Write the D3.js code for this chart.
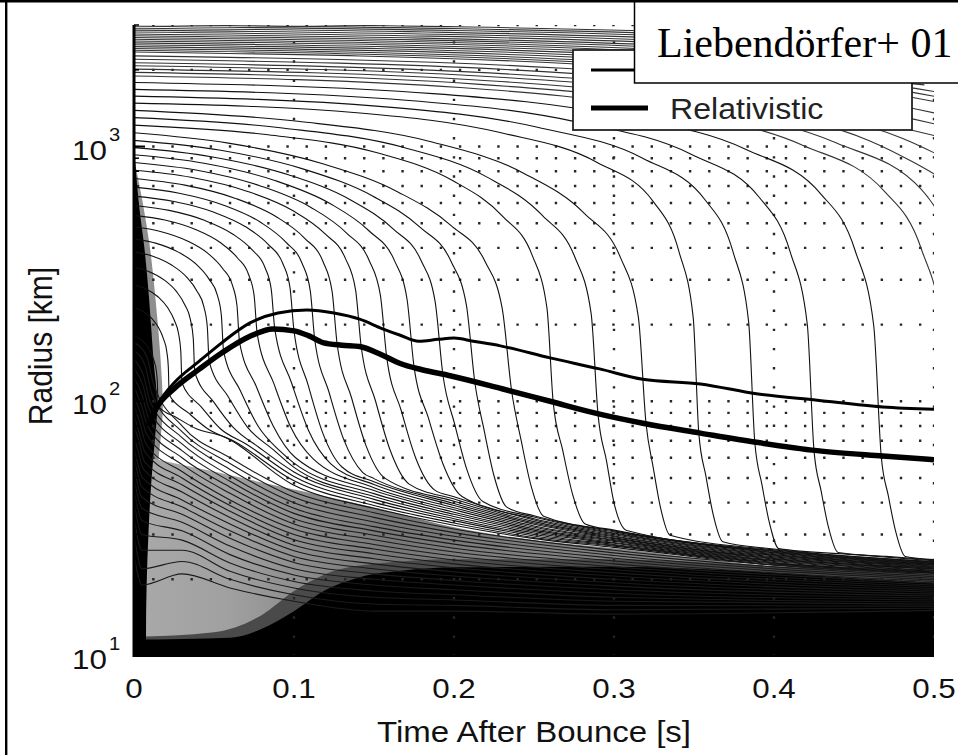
<!DOCTYPE html>
<html><head><meta charset="utf-8">
<script src="https://cdn.jsdelivr.net/npm/d3@7"></script>
<style>body{margin:0;background:#fff}svg{display:block}</style>
</head><body>
<svg id="chart" width="958" height="755"></svg>
<script>
// ---------- data ----------
const xTicks = [0, 0.1, 0.2, 0.3, 0.4, 0.5];
const xTickLabels = ["0", "0.1", "0.2", "0.3", "0.4", "0.5"];
const yTicks = [10, 100, 1000];
const yTickExponents = ["1", "2", "3"];
const yGridValues = [20,30,40,50,60,70,80,90,100,200,300,400,500,600,700,800,900,1000,2000,3000];
const xGridValues = [0.1, 0.2, 0.3, 0.4, 0.5];
const legendLabels = ["Newtonian", "Relativistic"];

// shock radius [km] vs time after bounce [s]
const newtonianShock = [[0.009,82],[0.016,100],[0.025,118],[0.041,144],[0.055,170],[0.0725,203],[0.09,222],[0.108,228],[0.125,222],[0.141,210],[0.155,193],[0.166,182],[0.178,172],[0.19,175],[0.2,177],[0.212,172],[0.229,165],[0.26,148],[0.291,134],[0.318,122],[0.354,117],[0.389,107],[0.427,101],[0.468,95],[0.5,93]];
const relativisticShock = [[0.009,80],[0.014,94],[0.025,112],[0.041,134],[0.055,155],[0.0725,180],[0.087,192],[0.1,189],[0.109,181],[0.118,170],[0.13,166],[0.141,164],[0.155,152],[0.166,141],[0.18,133],[0.1975,126],[0.23,112],[0.26,100],[0.291,89],[0.318,82],[0.354,75],[0.389,69],[0.427,64],[0.468,61],[0.5,59]];

// mass-shell trajectories that cross the shock inside the plotted time range
const shellTracks = [
 [[0,180],[0.00375,175.5],[0.0075,167],[0.0105,155.8],[0.0126,143.6],[0.01395,131.5],[0.01463,117.4],[0.015,96],[0.027,86],[0.039,78],[0.055,73],[0.1,46.8],[0.15,38],[0.2,32.6],[0.25,28.9],[0.3,26.7],[0.4,22.7],[0.5,21.1]],
 [[0,233],[0.0055,225.8],[0.011,212],[0.0154,194.4],[0.01848,175.5],[0.02046,157.1],[0.02145,136.4],[0.022,106],[0.034,90],[0.046,78],[0.062,70],[0.1,48.7],[0.15,39],[0.2,33.3],[0.25,29.2],[0.3,27],[0.4,22.8],[0.5,21.2]],
 [[0,286],[0.0075,276],[0.015,257.2],[0.021,233.3],[0.0252,208],[0.0279,183.7],[0.02925,156.6],[0.03,118],[0.042,95],[0.054,78],[0.07,68],[0.1,50.7],[0.15,40.1],[0.2,34],[0.25,29.6],[0.3,27.2],[0.4,23],[0.5,21.3]],
 [[0,335],[0.0095,322.6],[0.019,299],[0.0266,269.4],[0.0319,238.2],[0.0353,208.7],[0.03705,176],[0.038,130],[0.05,99],[0.062,79],[0.078,66],[0.1,52.8],[0.15,41.2],[0.2,34.6],[0.25,30],[0.3,27.4],[0.4,23.15],[0.5,21.4]],
 [[0,386],[0.01175,371],[0.0235,342.6],[0.0329,307.3],[0.0395,270],[0.0437,234.9],[0.0458,196.5],[0.047,143],[0.059,104],[0.071,79],[0.087,64.6],[0.1,55],[0.15,42.3],[0.2,35.3],[0.25,30.4],[0.3,27.7],[0.4,23.3],[0.5,21.55]],
 [[0,434],[0.014,416.7],[0.028,384.1],[0.0392,343.6],[0.047,301],[0.0521,261],[0.0546,217.4],[0.056,157],[0.0665,110],[0.0775,80],[0.091,64],[0.1,57.2],[0.15,43.4],[0.2,36],[0.25,30.8],[0.3,27.9],[0.4,23.5],[0.5,21.65]],
 [[0,484],[0.0165,464.2],[0.033,426.9],[0.0462,380.5],[0.0554,332],[0.0614,286.8],[0.06435,237.6],[0.066,170],[0.0765,114],[0.087,80],[0.101,60],[0.15,44.6],[0.2,36.7],[0.25,31.2],[0.3,28.2],[0.4,23.65],[0.5,21.75]],
 [[0,537],[0.01925,514.5],[0.0385,472.3],[0.0539,419.8],[0.0647,365.2],[0.0716,314.4],[0.0751,259.3],[0.077,184],[0.0875,117],[0.098,79],[0.112,59.4],[0.15,45.8],[0.2,37.5],[0.25,31.6],[0.3,28.4],[0.4,23.8],[0.5,21.9]],
 [[0,587],[0.022,561.5],[0.044,513.3],[0.0616,453.9],[0.0739,392.6],[0.0818,335.7],[0.0858,274.5],[0.088,192],[0.0985,118],[0.109,77],[0.123,56.8],[0.15,47.1],[0.2,38.2],[0.25,32],[0.3,28.6],[0.4,24],[0.5,22]],
 [[0,639],[0.025,608.4],[0.05,552.1],[0.07,483],[0.084,412.2],[0.093,347.5],[0.0975,279.2],[0.1,189],[0.109,115],[0.118,75],[0.13,55.2],[0.15,48.3],[0.2,39],[0.25,32.4],[0.3,28.9],[0.4,24.15],[0.5,22.1]],
 [[0,693],[0.02825,655.8],[0.0565,587],[0.0791,504.3],[0.0949,421.3],[0.1051,347.2],[0.1102,270.8],[0.113,174],[0.122,108],[0.131,71],[0.143,52.5],[0.15,49.7],[0.2,39.7],[0.25,32.9],[0.3,29.1],[0.4,24.3],[0.5,22.2]],
 [[0,749],[0.03175,705.3],[0.0635,625.6],[0.0889,530.4],[0.1067,436.4],[0.1181,353.7],[0.1238,270],[0.127,167],[0.136,103],[0.145,67],[0.157,49.8],[0.2,40.5],[0.25,33.3],[0.3,29.4],[0.4,24.5],[0.5,22.35]],
 [[0,807],[0.0355,757.5],[0.071,666.4],[0.0994,559.4],[0.1193,454.7],[0.1321,363.8],[0.1385,273.1],[0.142,164],[0.151,100],[0.16,64.5],[0.172,47.3],[0.2,41.3],[0.25,33.7],[0.3,29.6],[0.4,24.7],[0.5,22.45]],
 [[0,866],[0.0395,807],[0.079,700.5],[0.1106,576.8],[0.1327,458.5],[0.1469,358],[0.154,260.5],[0.158,148],[0.167,92],[0.176,60],[0.188,44.8],[0.2,42.2],[0.25,34.2],[0.3,29.9],[0.4,24.85],[0.5,22.55]],
 [[0,928],[0.04375,859.7],[0.0875,737.6],[0.1225,597.5],[0.147,466.1],[0.1628,356.5],[0.1706,252.6],[0.175,137],[0.184,86],[0.193,57],[0.205,42.3],[0.25,34.6],[0.3,30.2],[0.4,25],[0.5,22.7]],
 [[0,990],[0.04825,912.5],[0.0965,774.5],[0.1351,618.4],[0.1621,474.1],[0.1795,355.9],[0.1882,246.3],[0.193,128],[0.2005,81],[0.208,54],[0.218,40.4],[0.25,35.1],[0.3,30.4],[0.4,25.2],[0.5,22.8]],
 [[0,1057],[0.05325,969],[0.1065,813.6],[0.1491,639.6],[0.1789,481.6],[0.1981,354.6],[0.2077,239.4],[0.213,119],[0.219,76],[0.225,51],[0.233,38.4],[0.25,35.5],[0.3,30.7],[0.4,25.4],[0.5,22.9]],
 [[0,1132],[0.059,1031],[0.118,855.7],[0.1652,662.1],[0.1982,489],[0.2195,352.8],[0.2301,232],[0.236,110],[0.242,70],[0.248,47],[0.256,35.4],[0.3,31],[0.4,25.55],[0.5,23.05]],
 [[0,1214],[0.0838,1112],[0.152,944.6],[0.1991,735.6],[0.2306,530.9],[0.2489,373.8],[0.2581,232.1],[0.262,99],[0.268,64],[0.274,43.4],[0.282,33],[0.3,31.2],[0.4,25.75],[0.5,23.15]],
 [[0,1299],[0.0928,1183],[0.1682,993.6],[0.2204,760.2],[0.2552,536.3],[0.2755,368.5],[0.2857,221.4],[0.29,89],[0.2954,58],[0.2998,40.5],[0.308,31.1],[0.4,25.9],[0.5,23.3]],
 [[0,1387],[0.1024,1256],[0.1856,1045],[0.2432,788],[0.2816,545.5],[0.304,367.1],[0.3152,214.5],[0.32,82],[0.3245,55],[0.329,38.4],[0.335,29.8],[0.4,26.1],[0.5,23.4]],
 [[0,1481],[0.1412,1354],[0.2295,1132],[0.2895,866],[0.3248,605.2],[0.3406,386.9],[0.3495,213.1],[0.353,75],[0.3575,50.6],[0.362,35.9],[0.368,28.1],[0.4,26.3],[0.5,23.5]],
 [[0,1577],[0.1552,1435],[0.2522,1190],[0.3182,898],[0.357,617],[0.3744,385.7],[0.3841,206.3],[0.388,69],[0.3925,47],[0.397,33.6],[0.403,26.4],[0.45,25],[0.5,23.65]],
 [[0,1676],[0.17,1520],[0.2763,1250],[0.3485,931],[0.391,629.3],[0.4101,385.7],[0.4208,200.7],[0.425,64],[0.4295,44.3],[0.434,32.1],[0.44,25.5],[0.47,24.6],[0.5,23.8]],
 [[0,1785],[0.1868,1613],[0.3036,1317],[0.3829,972],[0.4296,648],[0.4507,390.6],[0.4623,198.9],[0.467,61],[0.4715,42.4],[0.476,30.9],[0.482,24.6],[0.5,23.9]]
];

// outer shells, still falling at the end of the plotted range
const outerShellTracks = [
 [[0,1892],[0.204,1704],[0.3315,1383],[0.4182,1010],[0.4692,665],[0.4922,394.2],[0.5049,196.4],[0.51,58]],
 [[0,1955],[0.214,1758],[0.3478,1422],[0.4387,1034],[0.4922,677],[0.5163,398.3]],
 [[0,2014],[0.224,1809],[0.364,1459],[0.4592,1057],[0.5152,688]],
 [[0,2075],[0.234,1862],[0.3803,1498],[0.4797,1081],[0.5382,700]],
 [[0,2132],[0.244,1910],[0.3965,1534],[0.5002,1104]],
 [[0,2200],[0.256,1969],[0.416,1577],[0.5248,1131]],
 [[0,2270],[0.268,2030],[0.4355,1622],[0.5494,1158]],
 [[0,2350],[0.282,2098],[0.4583,1671],[0.5781,1189]],
 [[0,2387],[0.289,2130],[0.47,1695],[0.592,1204]],
 [[0,2425],[0.296,2162],[0.481,1719],[0.6068,1219]],
 [[0,2467],[0.304,2198],[0.494,1746]],
 [[0,2510],[0.312,2235],[0.507,1774]],
 [[0,2553],[0.32,2272],[0.52,1801]],
 [[0,2597],[0.328,2310],[0.533,1828]],
 [[0,2638],[0.336,2346],[0.546,1855]],
 [[0,2680],[0.344,2382],[0.559,1882]],
 [[0,2722],[0.352,2418],[0.572,1909]],
 [[0,2764],[0.36,2455],[0.585,1936]],
 [[0,2815],[0.37,2498],[0.6,1968]],
 [[0,2865],[0.38,2542],[0.6175,2000]],
 [[0,2915],[0.39,2584],[0.634,2031]],
 [[0,2965],[0.4,2627],[0.65,2063]],
 [[0,3012],[0.41,2667],[0.666,2092]],
 [[0,3060],[0.42,2708],[0.6825,2122]]
];

// inner shells, already inside the shock at bounce
const innerShellTracks = [
 [[0,170],[0.008,150],[0.012,118],[0.03,80],[0.06,60],[0.1,44],[0.15,36.5],[0.2,31.5],[0.3,26],[0.5,20.8]],
 [[0,158],[0.007,138],[0.011,108],[0.03,76],[0.06,57],[0.1,42],[0.15,35],[0.2,30.5],[0.3,25.4],[0.5,20.5]],
 [[0,146],[0.006,126],[0.01,100],[0.03,72],[0.06,54],[0.1,40],[0.15,33.6],[0.2,29.5],[0.3,24.8],[0.5,20.2]],
 [[0,135],[0.0055,116],[0.0095,93],[0.03,68],[0.06,51],[0.1,38],[0.15,32.2],[0.2,28.5],[0.3,24.2],[0.5,19.9]],
 [[0,124],[0.005,106],[0.009,86],[0.03,64],[0.06,48.5],[0.1,36.3],[0.15,31],[0.2,27.5],[0.3,23.6],[0.5,19.6]],
 [[0,114],[0.0045,97],[0.0085,80],[0.03,60],[0.06,46],[0.1,34.6],[0.15,29.8],[0.2,26.5],[0.3,23],[0.5,19.3]],
 [[0,105],[0.004,90],[0.008,74],[0.03,56.5],[0.06,43.5],[0.1,33],[0.15,28.6],[0.2,25.6],[0.3,22.4],[0.5,19]],
 [[0,96],[0.0035,83],[0.0075,68],[0.03,53],[0.06,41],[0.1,31.5],[0.15,27.4],[0.2,24.7],[0.3,21.8],[0.5,18.7]],
 [[0,88],[0.003,76],[0.007,63],[0.03,50],[0.06,39],[0.1,30],[0.15,26.3],[0.2,23.8],[0.3,21.2],[0.5,18.4]],
 [[0,80],[0.003,70],[0.0065,58],[0.03,47],[0.06,37],[0.1,28.6],[0.15,25.2],[0.2,23],[0.3,20.6],[0.5,18.1]],
 [[0,73],[0.0025,64],[0.006,54],[0.03,44],[0.06,35],[0.1,27.2],[0.15,24.1],[0.2,22.2],[0.3,20],[0.5,17.8]],
 [[0,66],[0.002,58],[0.0055,50],[0.03,41],[0.06,33],[0.1,25.9],[0.15,23],[0.2,21.4],[0.3,19.4],[0.5,17.5]],
 [[0,60],[0.002,53],[0.005,46],[0.03,38.5],[0.06,31],[0.1,24.6],[0.15,22],[0.2,20.6],[0.3,18.8],[0.5,17.2]],
 [[0,55],[0.005,42],[0.03,36],[0.06,29],[0.1,23.3],[0.15,21],[0.2,19.8],[0.3,18.2],[0.5,16.9]],
 [[0,50],[0.005,38],[0.03,33.5],[0.06,27],[0.1,22],[0.15,20],[0.2,19],[0.3,17.6],[0.5,16.6]],
 [[0,45],[0.005,34],[0.03,31],[0.06,25],[0.1,20.8],[0.15,19],[0.2,18.2],[0.3,17],[0.5,16.3]],
 [[0,40],[0.005,30],[0.03,28.5],[0.06,23.2],[0.1,19.6],[0.15,18],[0.2,17.4],[0.3,16.4],[0.5,16]],
 [[0,35],[0.005,26],[0.03,26],[0.06,21.5],[0.1,18.5],[0.15,17],[0.2,16.6],[0.3,15.8],[0.5,15.7]],
 [[0,30],[0.005,22],[0.03,23.5],[0.06,20],[0.1,17.4],[0.15,16],[0.2,15.8],[0.3,15.2],[0.5,15.4]],
 [[0,25],[0.005,19],[0.03,21],[0.06,18.5],[0.1,16.4],[0.15,15],[0.2,15],[0.3,14.6],[0.5,15.1]]
];

// saturated (densely over-plotted) regions: upper edge radius vs time
const grayRegionTop = [[0,62],[0.02,58],[0.05,53],[0.08,48],[0.1,45],[0.13,41],[0.16,37],[0.2,32],[0.25,28.5],[0.3,26.5],[0.4,22.5],[0.5,21]];
const darkRegionTop = [[0,11.9],[0.05,12.4],[0.08,14.5],[0.1,18],[0.12,21],[0.15,23],[0.2,24],[0.3,24],[0.4,22.5],[0.5,21]];
const blackRegionTop = [[0,11.6],[0.06,11.8],[0.08,12.8],[0.1,15],[0.12,18.2],[0.14,20.3],[0.17,21.7],[0.2,22.3],[0.3,22.4],[0.35,22],[0.4,21.2],[0.45,20.2],[0.5,19.4]];
// early collapse band at the left edge: [radius, time of right edge]
const leftBandEdge = [[1000,0],[800,0.0012],[600,0.003],[400,0.0065],[250,0.0095],[150,0.012],[95,0.0145],[70,0.013],[50,0.011],[30,0.009],[12,0.0075],[10,0.0075]];
const leftFringeEdge = [[900,0],[600,0.0055],[400,0.01],[250,0.0135],[150,0.0165],[95,0.018],[70,0.0165],[50,0.014],[30,0.011],[10,0.009]];

// ---------- drawing ----------
const svg = d3.select("#chart");
const W = 958, H = 755;
const x = d3.scaleLinear().domain([0, 0.5]).range([134, 934]);
const y = d3.scaleLog().domain([10, 3000]).range([656, 25]);
const SANS = "'Liberation Sans', Arial, Helvetica, sans-serif";

svg.append("rect").attr("width", W).attr("height", H).attr("fill", "#fff");

const defs = svg.append("defs");
defs.append("clipPath").attr("id", "plotClip").append("rect")
  .attr("x", x(0)).attr("y", y(3000)).attr("width", x(0.5) - x(0)).attr("height", y(10) - y(3000));
const grad = defs.append("linearGradient").attr("id", "grayGrad")
  .attr("gradientUnits", "userSpaceOnUse").attr("x1", x(0)).attr("x2", x(0.5)).attr("y1", 0).attr("y2", 0);
[[0, "#a9a9a9"], [0.12, "#a0a0a0"], [0.22, "#8a8a8a"], [0.32, "#777"], [0.5, "#808080"], [1, "#8a8a8a"]]
  .forEach(s => grad.append("stop").attr("offset", s[0]).attr("stop-color", s[1]));

const plot = svg.append("g").attr("clip-path", "url(#plotClip)");

const areaTop = d3.area().x(d => x(d[0])).y0(y(10)).y1(d => y(d[1])).curve(d3.curveMonotoneX);
const bandArea = d3.area().y(d => y(d[0])).x0(x(0)).x1(d => x(d[1])).curve(d3.curveMonotoneY);

plot.append("path").datum(leftFringeEdge).attr("d", bandArea).attr("fill", "#8f8f8f");
plot.append("path").datum(grayRegionTop).attr("d", areaTop).attr("fill", "url(#grayGrad)");
plot.append("path").datum(darkRegionTop).attr("d", areaTop).attr("fill", "#4a4a4a");
plot.append("path").datum(blackRegionTop).attr("d", areaTop).attr("fill", "#000");
plot.append("path").datum(leftBandEdge).attr("d", bandArea).attr("fill", "#000");

// dotted grid
const gridG = plot.append("g").attr("stroke", "#262626").attr("stroke-width", 2.4).attr("stroke-dasharray", "2.4 16.77").attr("fill", "none");
yGridValues.forEach(v => {
  gridG.append("path").attr("d", `M${x(0) - 1},${y(v)}H${x(0.5) + 2}`);
});
xGridValues.forEach(v => {
  gridG.append("path").attr("d", `M${x(v)},${y(10) + 1}V${y(3000) - 2}`);
});

// trajectories
const line = d3.line().x(d => x(d[0])).y(d => y(d[1])).curve(d3.curveMonotoneX);
const shellG = plot.append("g").attr("fill", "none").attr("stroke", "#111").attr("stroke-width", 1.1);
outerShellTracks.forEach(s => shellG.append("path").attr("d", line(s)).attr("stroke", "#333"));
shellTracks.forEach(s => shellG.append("path").attr("d", line(s)));
innerShellTracks.forEach(s => shellG.append("path").attr("d", line(s)).attr("stroke", "#1a1a1a"));

// shock radii
plot.append("path").datum(newtonianShock).attr("d", line).attr("fill", "none")
  .attr("stroke", "#000").attr("stroke-width", 3).attr("stroke-linejoin", "round");
plot.append("path").datum(relativisticShock).attr("d", line).attr("fill", "none")
  .attr("stroke", "#000").attr("stroke-width", 5.5).attr("stroke-linejoin", "round");

// axes
const axG = svg.append("g").attr("stroke", "#000");
axG.append("line").attr("x1", x(0)).attr("x2", x(0)).attr("y1", y(3000)).attr("y2", y(10) + 1).attr("stroke-width", 3);
axG.append("line").attr("x1", x(0)).attr("x2", x(0.5)).attr("y1", y(10)).attr("y2", y(10)).attr("stroke-width", 2);
yGridValues.forEach(v => {
  axG.append("line").attr("x1", x(0)).attr("x2", x(0) + 5).attr("y1", y(v)).attr("y2", y(v)).attr("stroke-width", 1.5);
});
yTicks.forEach(v => {
  axG.append("line").attr("x1", x(0)).attr("x2", x(0) + 11).attr("y1", y(v)).attr("y2", y(v)).attr("stroke-width", 2);
});

const txt = svg.append("g").attr("font-family", SANS).attr("fill", "#111");
xTicks.forEach((v, i) => {
  txt.append("text").attr("transform", `translate(${x(v)},698) scale(1.12,1)`)
    .attr("text-anchor", "middle").attr("font-size", 28).text(xTickLabels[i]);
});
yTicks.forEach((v, i) => {
  txt.append("text").attr("transform", `translate(107,${y(v) + 13}) scale(1.12,1)`)
    .attr("text-anchor", "end").attr("font-size", 28).text("10");
  txt.append("text").attr("transform", `translate(109,${y(v) - 6}) scale(1.12,1)`)
    .attr("font-size", 18).text(yTickExponents[i]);
});
txt.append("text").attr("transform", `translate(${(x(0) + x(0.5)) / 2},742) scale(1.1,1)`)
  .attr("text-anchor", "middle").attr("font-size", 30).text("Time After Bounce [s]");
txt.append("text").attr("transform", "translate(52,346) rotate(-90) scale(1,1.1)")
  .attr("text-anchor", "middle").attr("font-size", 30).text("Radius [km]");

// legend
const lg = svg.append("g");
lg.append("rect").attr("x", 573).attr("y", 50).attr("width", 339).attr("height", 80)
  .attr("fill", "#fff").attr("stroke", "#222").attr("stroke-width", 1.8);
lg.append("line").attr("x1", 591).attr("x2", 646).attr("y1", 70).attr("y2", 70).attr("stroke", "#000").attr("stroke-width", 3);
lg.append("line").attr("x1", 591).attr("x2", 648).attr("y1", 108).attr("y2", 108).attr("stroke", "#000").attr("stroke-width", 5);
lg.append("text").attr("transform", "translate(670,119) scale(1.07,1)").attr("font-family", SANS)
  .attr("font-size", 30).attr("fill", "#222").text(legendLabels[1]);

// figure label box
const lb = svg.append("g");
lb.append("rect").attr("x", 634.5).attr("y", -2).attr("width", 340).attr("height", 85)
  .attr("fill", "#fff").attr("stroke", "#000").attr("stroke-width", 1.5);
lb.append("text").attr("x", 657).attr("y", 57).attr("font-family", "'Liberation Serif', 'Times New Roman', serif")
  .attr("font-size", 42).attr("fill", "#000").text("Liebendörfer+ 01");

// outer frame
svg.append("line").attr("x1", 0).attr("x2", W).attr("y1", 1.3).attr("y2", 1.3).attr("stroke", "#000").attr("stroke-width", 2.6);
svg.append("line").attr("x1", 6.2).attr("x2", 6.2).attr("y1", 0).attr("y2", H).attr("stroke", "#000").attr("stroke-width", 2.4);
</script>
</body></html>
